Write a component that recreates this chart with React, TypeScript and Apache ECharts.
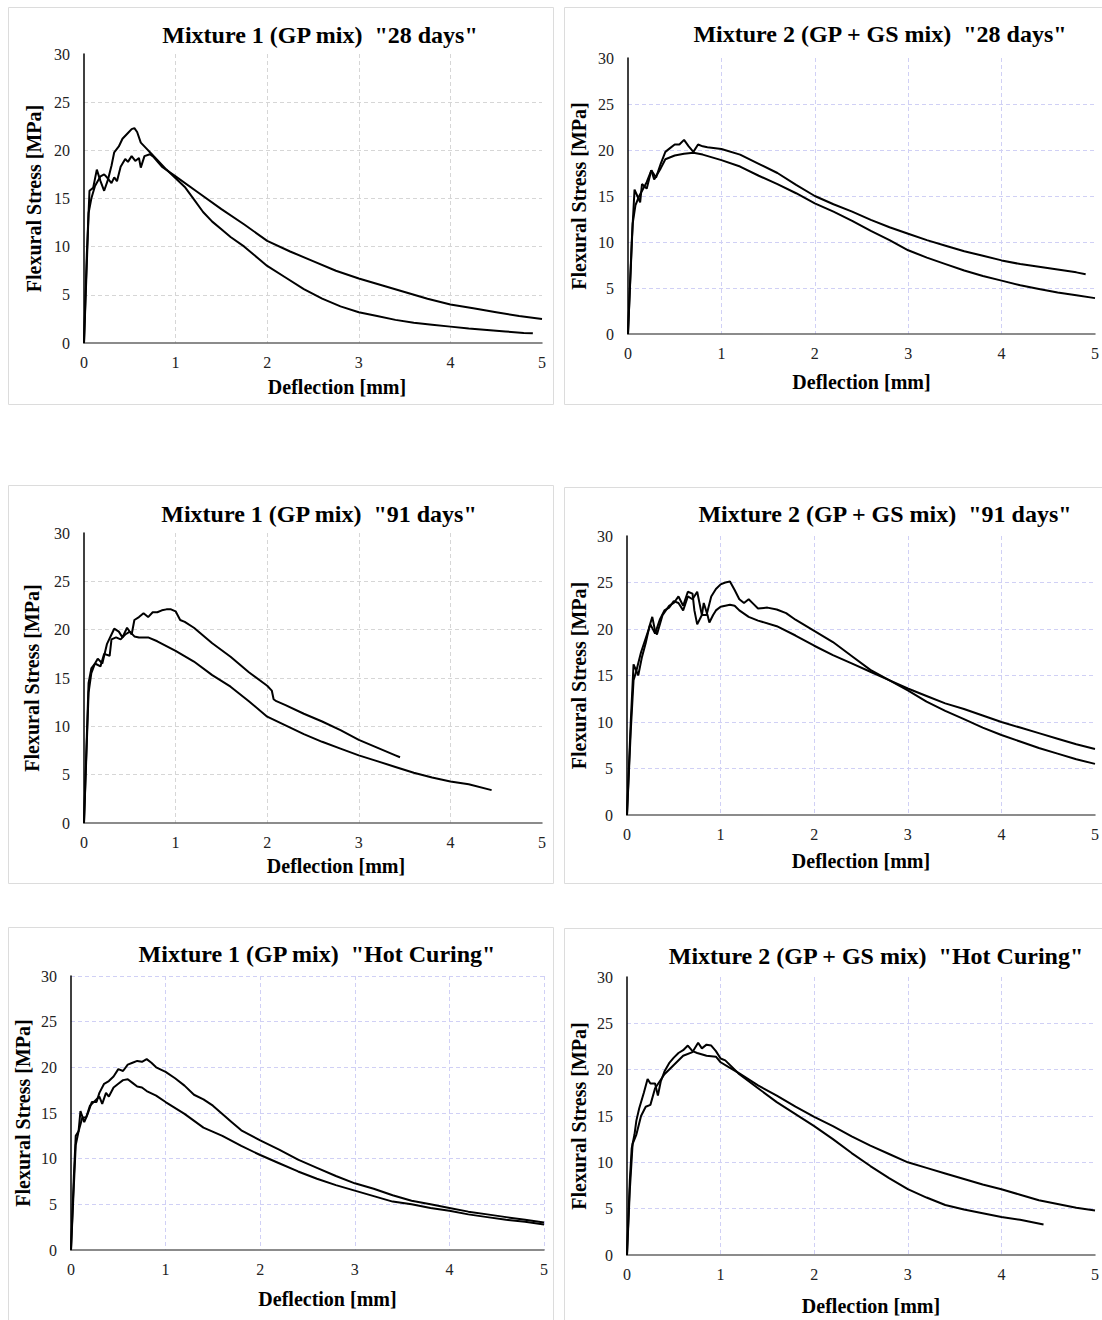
import React, { useEffect, useRef } from "react";
import * as echarts from "echarts";

type Pt = [number, number];

// ---------- Titles & axis labels ----------
const titles = [
  'Mixture 1 (GP mix)  "28 days"',
  'Mixture 2 (GP + GS mix)  "28 days"',
  'Mixture 1 (GP mix)  "91 days"',
  'Mixture 2 (GP + GS mix)  "91 days"',
  'Mixture 1 (GP mix)  "Hot Curing"',
  'Mixture 2 (GP + GS mix)  "Hot Curing"',
];
const xAxisTitle = "Deflection [mm]";
const yAxisTitle = "Flexural Stress [MPa]";
const xTicks = [0, 1, 2, 3, 4, 5];
const yTicks = [0, 5, 10, 15, 20, 25, 30];

// ---------- Data (deflection mm, stress MPa) ----------
const m1d28A: Pt[] = [
  [0, 0], [0.03, 9], [0.06, 15.8], [0.1, 16.1], [0.14, 18.0], [0.18, 16.8], [0.22, 15.8], [0.26, 16.9], [0.3, 18.4],
  [0.33, 19.8], [0.38, 20.4], [0.42, 21.2], [0.48, 21.8], [0.52, 22.2], [0.55, 22.3], [0.58, 21.9], [0.62, 20.8],
  [0.68, 20.2], [0.72, 19.8], [0.8, 19.0], [0.9, 18.0], [1.0, 17.1], [1.1, 16.2], [1.2, 14.9], [1.3, 13.6],
  [1.4, 12.6], [1.5, 11.8], [1.6, 11.0], [1.75, 10.0], [1.9, 8.8], [2.0, 8.0], [2.2, 6.8], [2.4, 5.6], [2.6, 4.6],
  [2.8, 3.8], [3.0, 3.2], [3.2, 2.8], [3.4, 2.4], [3.6, 2.1], [3.8, 1.9], [4.0, 1.7], [4.2, 1.5], [4.4, 1.35],
  [4.6, 1.2], [4.8, 1.05], [4.9, 1.0],
];
const m1d28B: Pt[] = [
  [0, 0], [0.03, 8], [0.05, 13.5], [0.08, 15.0], [0.12, 16.3], [0.18, 17.3], [0.22, 17.5], [0.25, 17.2], [0.3, 16.6],
  [0.33, 17.2], [0.36, 16.8], [0.4, 18.3], [0.45, 19.1], [0.48, 18.8], [0.52, 19.4], [0.56, 18.9], [0.6, 19.2],
  [0.62, 18.2], [0.66, 19.4], [0.72, 19.6], [0.76, 19.3], [0.85, 18.3], [1.0, 17.3], [1.25, 15.6], [1.5, 13.9],
  [1.75, 12.3], [2.0, 10.6], [2.25, 9.5], [2.5, 8.5], [2.75, 7.5], [3.0, 6.7], [3.25, 6.0], [3.5, 5.3], [3.75, 4.6],
  [4.0, 4.0], [4.25, 3.6], [4.5, 3.2], [4.75, 2.8], [5.0, 2.5],
];
const m2d28A: Pt[] = [
  [0, 0], [0.04, 10], [0.07, 15.7], [0.1, 15.0], [0.13, 14.3], [0.15, 16.3], [0.2, 15.8], [0.25, 17.8], [0.3, 17.0],
  [0.35, 18.5], [0.4, 19.8], [0.45, 20.2], [0.5, 20.6], [0.55, 20.6], [0.6, 21.1], [0.65, 20.4], [0.7, 19.8],
  [0.75, 20.6], [0.8, 20.4], [0.85, 20.3], [1.0, 20.1], [1.2, 19.5], [1.4, 18.5], [1.6, 17.5], [1.8, 16.2],
  [2.0, 15.0], [2.2, 14.1], [2.4, 13.3], [2.6, 12.4], [2.8, 11.6], [3.0, 10.9], [3.2, 10.2], [3.4, 9.6], [3.6, 9.0],
  [3.8, 8.5], [4.0, 8.0], [4.2, 7.6], [4.4, 7.3], [4.6, 7.0], [4.8, 6.7], [4.9, 6.5],
];
const m2d28B: Pt[] = [
  [0, 0], [0.05, 12], [0.08, 14.0], [0.12, 15.0], [0.2, 16.5], [0.25, 17.8], [0.28, 16.8], [0.35, 18.0], [0.4, 19.0],
  [0.5, 19.4], [0.6, 19.6], [0.7, 19.7], [0.8, 19.5], [1.0, 18.9], [1.2, 18.2], [1.4, 17.2], [1.6, 16.3], [1.8, 15.3],
  [2.0, 14.2], [2.2, 13.3], [2.4, 12.3], [2.6, 11.2], [2.8, 10.2], [3.0, 9.1], [3.2, 8.3], [3.4, 7.6], [3.6, 6.9],
  [3.8, 6.3], [4.0, 5.8], [4.2, 5.3], [4.4, 4.9], [4.6, 4.5], [4.8, 4.2], [5.0, 3.9],
];
const m1d91A: Pt[] = [
  [0, 0], [0.05, 14.5], [0.08, 16.0], [0.12, 16.5], [0.15, 17.0], [0.2, 16.5], [0.25, 18.5], [0.3, 19.5], [0.33, 20.1],
  [0.38, 19.8], [0.42, 19.2], [0.47, 20.2], [0.52, 19.5], [0.55, 21.0], [0.6, 21.3], [0.65, 21.7], [0.7, 21.3],
  [0.75, 21.8], [0.8, 21.8], [0.85, 22.0], [0.9, 22.1], [0.95, 22.1], [1.0, 21.9], [1.05, 21.0], [1.1, 20.8],
  [1.2, 20.2], [1.4, 18.6], [1.6, 17.2], [1.8, 15.6], [2.0, 14.2], [2.05, 13.7], [2.07, 12.8], [2.1, 12.6],
  [2.2, 12.2], [2.4, 11.3], [2.6, 10.5], [2.8, 9.6], [3.0, 8.6], [3.2, 7.8], [3.4, 7.0], [3.45, 6.8],
];
const m1d91B: Pt[] = [
  [0, 0], [0.05, 13.5], [0.08, 15.5], [0.12, 16.5], [0.18, 16.2], [0.22, 17.5], [0.28, 17.3], [0.3, 19.0],
  [0.35, 19.2], [0.4, 19.0], [0.45, 19.5], [0.5, 19.8], [0.55, 19.3], [0.6, 19.2], [0.7, 19.2], [0.8, 18.8],
  [1.0, 17.8], [1.2, 16.7], [1.4, 15.3], [1.6, 14.1], [1.8, 12.6], [2.0, 11.0], [2.2, 10.1], [2.4, 9.2], [2.6, 8.4],
  [2.8, 7.7], [3.0, 7.0], [3.2, 6.4], [3.4, 5.8], [3.6, 5.2], [3.8, 4.7], [4.0, 4.3], [4.2, 4.0], [4.45, 3.4],
];
const m2d91A: Pt[] = [
  [0, 0], [0.04, 9], [0.07, 14.5], [0.1, 15.5], [0.15, 17.5], [0.2, 19.0], [0.25, 20.5], [0.3, 19.5], [0.35, 21.0],
  [0.4, 22.0], [0.45, 22.3], [0.5, 23.0], [0.55, 22.8], [0.6, 22.0], [0.65, 23.5], [0.7, 23.2], [0.75, 24.0],
  [0.8, 21.5], [0.85, 21.5], [0.9, 23.5], [0.95, 24.3], [1.0, 24.8], [1.05, 25.0], [1.1, 25.1], [1.15, 24.2],
  [1.2, 23.2], [1.25, 22.8], [1.3, 23.2], [1.35, 22.7], [1.4, 22.2], [1.5, 22.3], [1.6, 22.1], [1.7, 21.7],
  [1.8, 21.0], [2.0, 19.8], [2.2, 18.6], [2.4, 17.1], [2.6, 15.6], [2.8, 14.5], [3.0, 13.4], [3.2, 12.2], [3.4, 11.2],
  [3.6, 10.3], [3.8, 9.4], [4.0, 8.6], [4.2, 7.9], [4.4, 7.2], [4.6, 6.6], [4.8, 6.0], [5.0, 5.5],
];
const m2d91B: Pt[] = [
  [0, 0], [0.04, 10], [0.07, 16.2], [0.1, 15.5], [0.12, 15.0], [0.16, 17.0], [0.2, 18.5], [0.24, 20.3], [0.27, 21.3],
  [0.3, 19.8], [0.32, 19.4], [0.38, 21.5], [0.45, 22.5], [0.5, 22.8], [0.55, 23.5], [0.6, 22.5], [0.65, 24.0],
  [0.7, 23.8], [0.72, 22.0], [0.75, 20.5], [0.8, 21.5], [0.82, 22.8], [0.86, 21.5], [0.88, 20.7], [0.92, 21.5],
  [0.95, 22.0], [1.0, 22.4], [1.1, 22.6], [1.15, 22.5], [1.2, 22.0], [1.3, 21.3], [1.4, 20.9], [1.6, 20.3],
  [1.8, 19.3], [2.0, 18.2], [2.2, 17.2], [2.4, 16.3], [2.6, 15.4], [2.8, 14.5], [3.0, 13.6], [3.2, 12.8], [3.4, 12.0],
  [3.6, 11.4], [3.8, 10.7], [4.0, 10.0], [4.2, 9.4], [4.4, 8.8], [4.6, 8.2], [4.8, 7.6], [5.0, 7.1],
];
const m1hcA: Pt[] = [
  [0, 0], [0.03, 8], [0.05, 12.5], [0.08, 13.0], [0.1, 15.2], [0.14, 14.0], [0.18, 15.0], [0.22, 16.2], [0.27, 16.2],
  [0.3, 17.2], [0.35, 18.2], [0.4, 18.5], [0.45, 19.0], [0.5, 19.8], [0.55, 19.6], [0.6, 20.3], [0.65, 20.5],
  [0.7, 20.7], [0.75, 20.6], [0.8, 20.9], [0.85, 20.5], [0.9, 20.0], [1.0, 19.5], [1.1, 18.8], [1.2, 18.0],
  [1.3, 17.0], [1.4, 16.5], [1.5, 15.8], [1.6, 14.9], [1.7, 14.0], [1.8, 13.1], [2.0, 12.0], [2.2, 11.0], [2.4, 9.9],
  [2.6, 9.0], [2.8, 8.1], [3.0, 7.3], [3.2, 6.7], [3.4, 6.0], [3.6, 5.4], [3.8, 5.0], [4.0, 4.6], [4.2, 4.2],
  [4.4, 3.9], [4.6, 3.6], [4.8, 3.3], [5.0, 3.0],
];
const m1hcB: Pt[] = [
  [0, 0], [0.03, 7], [0.05, 11.5], [0.08, 13.0], [0.12, 14.5], [0.16, 14.5], [0.2, 15.8], [0.25, 16.3], [0.3, 16.8],
  [0.33, 16.0], [0.37, 17.2], [0.4, 16.8], [0.45, 17.8], [0.5, 18.2], [0.55, 18.6], [0.6, 18.7], [0.65, 18.3],
  [0.7, 17.9], [0.75, 17.8], [0.8, 17.4], [0.9, 16.9], [1.0, 16.2], [1.2, 14.9], [1.4, 13.4], [1.6, 12.5],
  [1.8, 11.4], [2.0, 10.4], [2.2, 9.5], [2.4, 8.6], [2.6, 7.8], [2.8, 7.1], [3.0, 6.5], [3.2, 5.9], [3.4, 5.3],
  [3.6, 5.0], [3.8, 4.6], [4.0, 4.3], [4.2, 3.9], [4.4, 3.6], [4.6, 3.3], [4.8, 3.1], [5.0, 2.8],
];
const m2hcA: Pt[] = [
  [0, 0], [0.03, 8], [0.05, 11.5], [0.08, 13.0], [0.1, 14.5], [0.13, 15.8], [0.18, 17.5], [0.22, 19.0], [0.25, 18.5],
  [0.3, 18.5], [0.33, 17.2], [0.36, 18.7], [0.4, 19.8], [0.45, 20.7], [0.5, 21.3], [0.55, 21.8], [0.6, 22.1],
  [0.65, 22.6], [0.7, 22.0], [0.75, 21.8], [0.85, 21.5], [0.95, 21.4], [1.0, 20.8], [1.1, 20.2], [1.2, 19.6],
  [1.4, 18.3], [1.6, 17.2], [1.8, 16.0], [2.0, 14.9], [2.2, 13.9], [2.4, 12.8], [2.6, 11.8], [2.8, 10.9],
  [3.0, 10.0], [3.2, 9.4], [3.4, 8.8], [3.6, 8.2], [3.8, 7.6], [4.0, 7.1], [4.2, 6.5], [4.4, 5.9], [4.6, 5.5],
  [4.8, 5.1], [5.0, 4.8],
];
const m2hcB: Pt[] = [
  [0, 0], [0.03, 7], [0.06, 12.0], [0.1, 13.0], [0.15, 15.0], [0.2, 16.0], [0.25, 16.2], [0.3, 18.0], [0.4, 19.5],
  [0.5, 20.5], [0.6, 21.5], [0.7, 21.9], [0.76, 22.9], [0.8, 22.3], [0.85, 22.7], [0.9, 22.6], [0.95, 22.0],
  [1.0, 21.2], [1.05, 21.0], [1.2, 19.5], [1.4, 18.0], [1.6, 16.5], [1.8, 15.2], [2.0, 13.9], [2.2, 12.5],
  [2.4, 11.0], [2.6, 9.6], [2.8, 8.3], [3.0, 7.1], [3.2, 6.2], [3.4, 5.4], [3.6, 4.9], [3.8, 4.5], [4.0, 4.1],
  [4.2, 3.8], [4.45, 3.3],
];

const curves: Pt[][][] = [
  [m1d28A, m1d28B],
  [m2d28A, m2d28B],
  [m1d91A, m1d91B],
  [m2d91A, m2d91B],
  [m1hcA, m1hcB],
  [m2hcA, m2hcB],
];

// ---------- Layout (presentation only) ----------
const FONT = "'Liberation Serif', 'Times New Roman', serif";
const GRAY = "#d6d6d6";
const LAV = "#d0d0f5";
const panels = [
  { grid: [84, 54, 458, 289], title: [315, 32], gridColor: GRAY, xMaxLine: false, yMaxLine: false, xShift: 24, xGap: 34, yGap: 40, box: [8, 7, 545, 397] },
  { grid: [628, 58, 472, 276], title: [875, 31], gridColor: LAV, xMaxLine: false, yMaxLine: false, xShift: 0, xGap: 38, yGap: 39, box: [564, 7, 560, 397] },
  { grid: [84, 533, 458, 290], title: [314, 511], gridColor: GRAY, xMaxLine: false, yMaxLine: false, xShift: 23, xGap: 33, yGap: 42, box: [8, 485, 545, 398] },
  { grid: [627, 536, 473, 279], title: [880, 511], gridColor: LAV, xMaxLine: false, yMaxLine: false, xShift: 0, xGap: 36, yGap: 38, box: [564, 487, 560, 396] },
  { grid: [71, 976, 473, 274], title: [312, 951], gridColor: LAV, xMaxLine: true, yMaxLine: true, xShift: 20, xGap: 39, yGap: 38, box: [8, 927, 545, 420] },
  { grid: [627, 977, 473, 278], title: [871, 953], gridColor: LAV, xMaxLine: false, yMaxLine: false, xShift: 10, xGap: 41, yGap: 38, box: [564, 928, 560, 420] },
];

function buildOption() {
  const grid: any[] = [];
  const xAxis: any[] = [];
  const yAxis: any[] = [];
  const title: any[] = [];
  const series: any[] = [];
  const graphic: any[] = [];

  panels.forEach((p, i) => {
    const [l, t, w, h] = p.grid;
    grid.push({ left: l, top: t, width: w, height: h, containLabel: false });
    title.push({
      text: titles[i],
      left: p.title[0],
      top: p.title[1] - 14,
      textAlign: "center",
      textStyle: { fontFamily: FONT, fontSize: 24, fontWeight: "bold", color: "#000" },
    });
    xAxis.push({
      type: "value",
      gridIndex: i,
      min: xTicks[0],
      max: xTicks[xTicks.length - 1],
      interval: 1,
      name: xAxisTitle,
      nameLocation: "middle",
      nameGap: p.xGap,
      nameTextStyle: {
        fontFamily: FONT, fontSize: 20, fontWeight: "bold", color: "#000",
        padding: [0, 0, 0, p.xShift * 2],
      },
      axisLine: { show: true, onZero: false, lineStyle: { color: "#666", width: 1.5 } },
      axisTick: { show: false },
      axisLabel: { fontFamily: FONT, fontSize: 16, color: "#222", margin: 11 },
      splitLine: {
        show: true, showMinLine: false, showMaxLine: p.xMaxLine,
        lineStyle: { color: p.gridColor, type: [4, 3], width: 1 },
      },
    });
    yAxis.push({
      type: "value",
      gridIndex: i,
      min: yTicks[0],
      max: yTicks[yTicks.length - 1],
      interval: 5,
      name: yAxisTitle,
      nameLocation: "middle",
      nameGap: p.yGap,
      nameRotate: 90,
      nameTextStyle: { fontFamily: FONT, fontSize: 20, fontWeight: "bold", color: "#000" },
      axisLine: { show: true, onZero: false, lineStyle: { color: "#000", width: 1.5 } },
      axisTick: { show: false },
      axisLabel: { fontFamily: FONT, fontSize: 16, color: "#222", margin: 14 },
      splitLine: {
        show: true, showMinLine: false, showMaxLine: p.yMaxLine,
        lineStyle: { color: p.gridColor, type: [4, 3], width: 1 },
      },
    });
    curves[i].forEach((c, k) => {
      series.push({
        type: "line",
        name: `panel${i + 1}-${k + 1}`,
        xAxisIndex: i,
        yAxisIndex: i,
        data: c,
        showSymbol: false,
        symbol: "none",
        smooth: false,
        lineStyle: { color: "#000", width: 2 },
        silent: true,
        z: 3,
      });
    });
    graphic.push({
      type: "rect",
      shape: { x: p.box[0] + 0.5, y: p.box[1] + 0.5, width: p.box[2], height: p.box[3] },
      style: { fill: "none", stroke: "#dcdcdc", lineWidth: 1 },
      silent: true,
      z: 0,
    });
  });

  return {
    animation: false,
    backgroundColor: "#ffffff",
    title,
    grid,
    xAxis,
    yAxis,
    series,
    graphic,
    tooltip: { show: false },
  };
}

export default function App() {
  const ref = useRef<HTMLDivElement>(null);
  useEffect(() => {
    document.body.style.margin = "0";
    if (!ref.current) return;
    const chart = echarts.init(ref.current, undefined, { renderer: "svg" });
    chart.setOption(buildOption() as any);
    return () => chart.dispose();
  }, []);
  return <div ref={ref} style={{ width: 1102, height: 1320 }} />;
}
